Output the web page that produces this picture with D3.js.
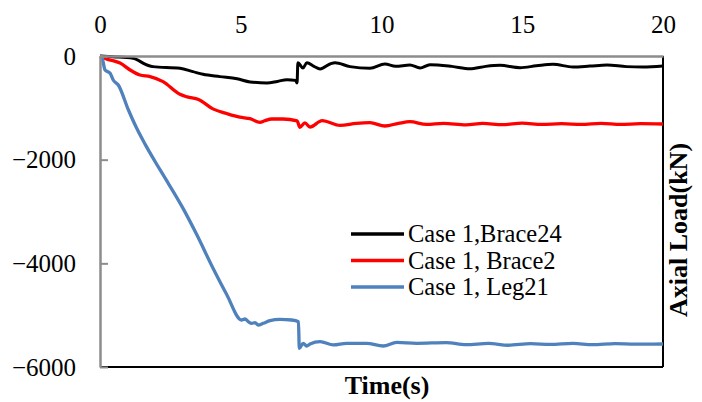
<!DOCTYPE html>
<html>
<head>
<meta charset="utf-8">
<script src="https://cdn.jsdelivr.net/npm/d3@7"></script>
<style>
  html, body { margin: 0; padding: 0; background: #fff; }
  svg { display: block; }
  text { font-family: "Liberation Serif", "Times New Roman", serif; }
</style>
</head>
<body>
<svg id="chart" width="702" height="402"></svg>
<script>
// ---- Data ----
const seriesNames = ["Case 1,Brace24", "Case 1, Brace2", "Case 1, Leg21"];
const xTicks = [0, 5, 10, 15, 20];
const yTicks = [0, -2000, -4000, -6000];

const timeBrace24 = [0,0.46,1.17,1.67,1.88,2.84,3.3,3.66,4.26,4.87,5.33,5.93,6.3,6.64,6.95,7.0,7.03,7.21,7.35,7.6,7.82,8.17,8.35,8.88,9.59,10.12,10.5,11.01,11.37,11.72,12.5,13.14,13.7,14.21,14.92,15.5,16.09,16.8,17.4,18.01,18.7,19.29,20];
const brace24 = [0,-15,-45,-174,-205,-237,-302,-353,-398,-440,-500,-520,-490,-457,-470,-520,-129,-231,-129,-200,-250,-154,-129,-205,-237,-154,-200,-174,-231,-167,-200,-245,-200,-180,-225,-190,-160,-212,-195,-174,-205,-212,-193];

const timeBrace2 = [0,0.25,0.46,0.71,1.07,1.42,1.78,2.24,2.84,3.1,3.5,4.01,4.5,4.97,5.33,5.68,5.85,6.1,6.5,7.0,7.1,7.28,7.46,7.89,8.53,9.1,9.59,10.12,10.6,11.01,11.6,12.2,13.0,13.6,14.3,15.0,15.7,16.4,17.1,17.8,18.5,19.2,20];
const brace2 = [0,-60,-90,-135,-270,-367,-398,-495,-740,-790,-840,-1020,-1110,-1180,-1209,-1280,-1250,-1215,-1215,-1250,-1375,-1290,-1370,-1248,-1340,-1300,-1286,-1350,-1300,-1267,-1320,-1300,-1330,-1300,-1325,-1295,-1320,-1305,-1320,-1300,-1320,-1305,-1312];

const timeLeg21 = [0,0.06,0.18,0.36,0.47,0.65,1.01,1.3,1.6,1.95,2.25,2.96,3.44,4.02,4.5,5.03,5.15,5.27,5.39,5.51,5.62,5.8,6.04,6.39,6.81,7.05,7.08,7.22,7.34,7.46,7.82,8.29,8.76,9.47,10.06,10.54,11.25,12.3,13.0,13.8,14.5,15.3,16.0,16.8,17.5,18.3,19.0,20];
const leg21 = [0,-13,-270,-334,-463,-560,-1042,-1390,-1700,-2030,-2300,-2950,-3450,-4100,-4600,-5093,-5074,-5126,-5157,-5145,-5190,-5157,-5106,-5080,-5093,-5126,-5640,-5543,-5595,-5556,-5511,-5575,-5543,-5543,-5595,-5524,-5543,-5530,-5570,-5545,-5580,-5550,-5565,-5545,-5570,-5550,-5560,-5556];

const seriesColors = ["#000000", "#FF0000", "#4F81BD"];

// ---- Layout ----
const svg = d3.select("#chart");
const W = 702, H = 402;
const plot = { left: 100, right: 663, top: 56, bottom: 367 };
const FONT = 25;

svg.append("rect").attr("width", W).attr("height", H).attr("fill", "#fff");

const x = d3.scaleLinear().domain([0, 20]).range([plot.left, plot.right]);
const y = d3.scaleLinear().domain([0, -6000]).range([plot.top, plot.bottom]);

// Border (right & bottom black)
svg.append("line").attr("x1", plot.left).attr("x2", plot.right)
  .attr("y1", plot.bottom).attr("y2", plot.bottom)
  .attr("stroke", "#000").attr("stroke-width", 2);
svg.append("line").attr("x1", plot.right).attr("x2", plot.right)
  .attr("y1", plot.top).attr("y2", plot.bottom)
  .attr("stroke", "#000").attr("stroke-width", 2);

// Series
const series = [
  { name: seriesNames[0], t: timeBrace24, v: brace24, color: seriesColors[0], w: 3 },
  { name: seriesNames[1], t: timeBrace2, v: brace2, color: seriesColors[1], w: 3.3 },
  { name: seriesNames[2], t: timeLeg21, v: leg21, color: seriesColors[2], w: 3.3 }
];
const line = d3.line().x(d => x(d[0])).y(d => y(d[1])).curve(d3.curveMonotoneX);
series.forEach(s => {
  svg.append("path")
    .datum(s.t.map((t, i) => [t, s.v[i]]))
    .attr("fill", "none")
    .attr("stroke", s.color)
    .attr("stroke-width", s.w)
    .attr("stroke-linejoin", "round")
    .attr("d", line);
});

// Y axis (left, gray, inward ticks)
const yAxis = svg.append("g")
  .attr("transform", `translate(${plot.left},0)`)
  .call(d3.axisLeft(y).tickValues(yTicks).tickFormat(d3.format("d"))
    .tickSizeInner(-8).tickSizeOuter(0).tickPadding(24));
yAxis.select(".domain").attr("stroke", "#8c8c8c").attr("stroke-width", 2.5);
yAxis.selectAll(".tick line").attr("stroke", "#8c8c8c").attr("stroke-width", 2);
yAxis.selectAll(".tick text").attr("font-size", FONT)
  .attr("font-family", "Liberation Serif, Times New Roman, serif").attr("fill", "#000");

// X axis (top, gray, no ticks)
const xAxis = svg.append("g")
  .attr("transform", `translate(0,${plot.top})`)
  .call(d3.axisTop(x).tickValues(xTicks).tickFormat(d3.format("d"))
    .tickSize(0).tickPadding(23));
xAxis.select(".domain").attr("stroke", "#8c8c8c").attr("stroke-width", 2.5);
xAxis.selectAll(".tick text").attr("font-size", FONT)
  .attr("font-family", "Liberation Serif, Times New Roman, serif").attr("fill", "#000");

// Axis titles
svg.append("text")
  .attr("x", 387).attr("y", 394)
  .attr("text-anchor", "middle")
  .attr("font-size", 26).attr("font-weight", "bold")
  .text("Time(s)");
svg.append("text")
  .attr("transform", "translate(687,230) rotate(-90)")
  .attr("text-anchor", "middle")
  .attr("font-size", 26).attr("font-weight", "bold")
  .text("Axial Load(kN)");

// Legend
const legend = svg.append("g").attr("transform", "translate(351,234)");
series.forEach((s, i) => {
  const g = legend.append("g").attr("transform", `translate(0,${i * 26.5})`);
  g.append("line").attr("x1", 0).attr("x2", 53).attr("y1", 0).attr("y2", 0)
    .attr("stroke", s.color).attr("stroke-width", 3.3);
  g.append("text").attr("x", 57).attr("y", 0).attr("dy", "0.33em")
    .attr("font-size", 24.5).text(s.name);
});
</script>
</body>
</html>
